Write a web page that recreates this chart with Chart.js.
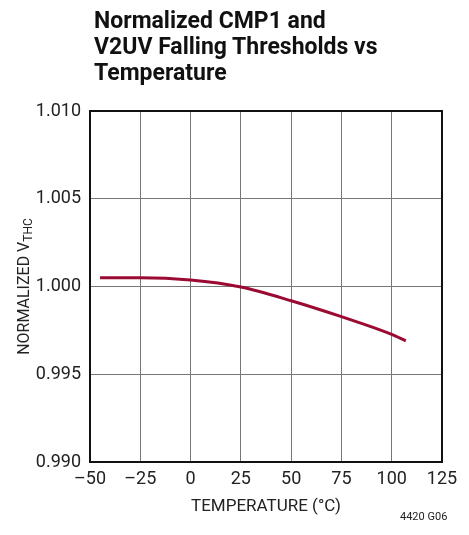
<!DOCTYPE html>
<html>
<head>
<meta charset="utf-8">
<script src="https://cdn.jsdelivr.net/npm/chart.js@4/dist/chart.umd.min.js"></script>
<style>
  body { margin: 0; background: #fff; }
  #wrap { position: relative; width: 469px; height: 535px; }
  #title {
    position: absolute; left: 94px; top: 8px;
    font-family: "Liberation Sans Narrow", "Roboto", sans-serif;
    font-weight: bold; font-size: 23px; line-height: 26px; color: #111;
  }
  #code {
    position: absolute; left: 400px; top: 510px;
    font-family: "Liberation Sans Narrow", "Roboto", sans-serif;
    font-size: 11px; color: #222;
  }
</style>
</head>
<body>
<div id="wrap">
  <canvas id="chart" width="469" height="535"></canvas>
  <div id="title">Normalized CMP1 and<br>V2UV Falling Thresholds vs<br>Temperature</div>
  <div id="code">4420 G06</div>
</div>
<script>
// data
const temps = [-45, -25, 0, 25, 50, 75, 100, 107];
const normVthc = [1.0005, 1.0005, 1.00037, 0.99997, 0.99919, 0.99828, 0.99727, 0.99690];
const xTicks = [-50, -25, 0, 25, 50, 75, 100, 125];
const yTicks = [0.990, 0.995, 1.000, 1.005, 1.010];

const fontFam = '"Liberation Sans Narrow", "Roboto", sans-serif';

// box around plot area + y axis title with subscript
const framePlugin = {
    id: 'frame',
    afterDraw(chart) {
        const ctx = chart.ctx;
        const a = chart.chartArea;
        ctx.save();
        ctx.strokeStyle = '#111';
        ctx.lineWidth = 2;
        ctx.strokeRect(a.left, a.top, a.right - a.left, a.bottom - a.top);

        // y axis title
        ctx.translate(25, (a.top + a.bottom) / 2);
        ctx.rotate(-Math.PI / 2);
        ctx.fillStyle = '#222';
        ctx.textBaseline = 'middle';
        const main = 'NORMALIZED V';
        ctx.font = '16px ' + fontFam;
        const w1 = ctx.measureText(main).width;
        ctx.font = '12px ' + fontFam;
        const w2 = ctx.measureText('THC').width;
        const start = -(w1 + w2) / 2;
        ctx.textAlign = 'left';
        ctx.font = '16px ' + fontFam;
        ctx.fillText(main, start, 0);
        ctx.font = '12px ' + fontFam;
        ctx.fillText('THC', start + w1, 4);
        ctx.restore();
    }
};

new Chart(document.getElementById('chart'), {
    type: 'line',
    data: {
        datasets: [{
            data: temps.map((t, i) => ({ x: t, y: normVthc[i] })),
            borderColor: '#9b0a32',
            borderWidth: 3,
            pointRadius: 0,
            tension: 0.4,
            cubicInterpolationMode: 'monotone',
            fill: false
        }]
    },
    options: {
        responsive: false,
        animation: false,
        layout: { padding: { top: 111, right: 27, left: 0, bottom: 14 } },
        plugins: {
            legend: { display: false },
            tooltip: { enabled: false }
        },
        scales: {
            x: {
                type: 'linear',
                min: -50,
                max: 125,
                afterBuildTicks: s => { s.ticks = xTicks.map(v => ({ value: v })); },
                afterFit: s => { s.height = 59; },
                grid: { color: '#777', lineWidth: 1, drawTicks: false },
                border: { display: false },
                ticks: {
                    padding: 7,
                    color: '#222',
                    font: { family: fontFam, size: 18 },
                    callback: v => String(v).replace('-', '\u2013')
                },
                title: {
                    display: true,
                    text: 'TEMPERATURE (\u00b0C)',
                    color: '#222',
                    font: { family: fontFam, size: 17 },
                    padding: { top: 4 }
                }
            },
            y: {
                min: 0.990,
                max: 1.010,
                afterBuildTicks: s => { s.ticks = yTicks.map(v => ({ value: v })); },
                afterFit: s => { s.width = 90; },
                grid: { color: '#777', lineWidth: 1, drawTicks: false },
                border: { display: false },
                ticks: {
                    padding: 9,
                    color: '#222',
                    font: { family: fontFam, size: 18 },
                    callback: v => v.toFixed(3)
                }
            }
        }
    },
    plugins: [framePlugin]
});
</script>
</body>
</html>
